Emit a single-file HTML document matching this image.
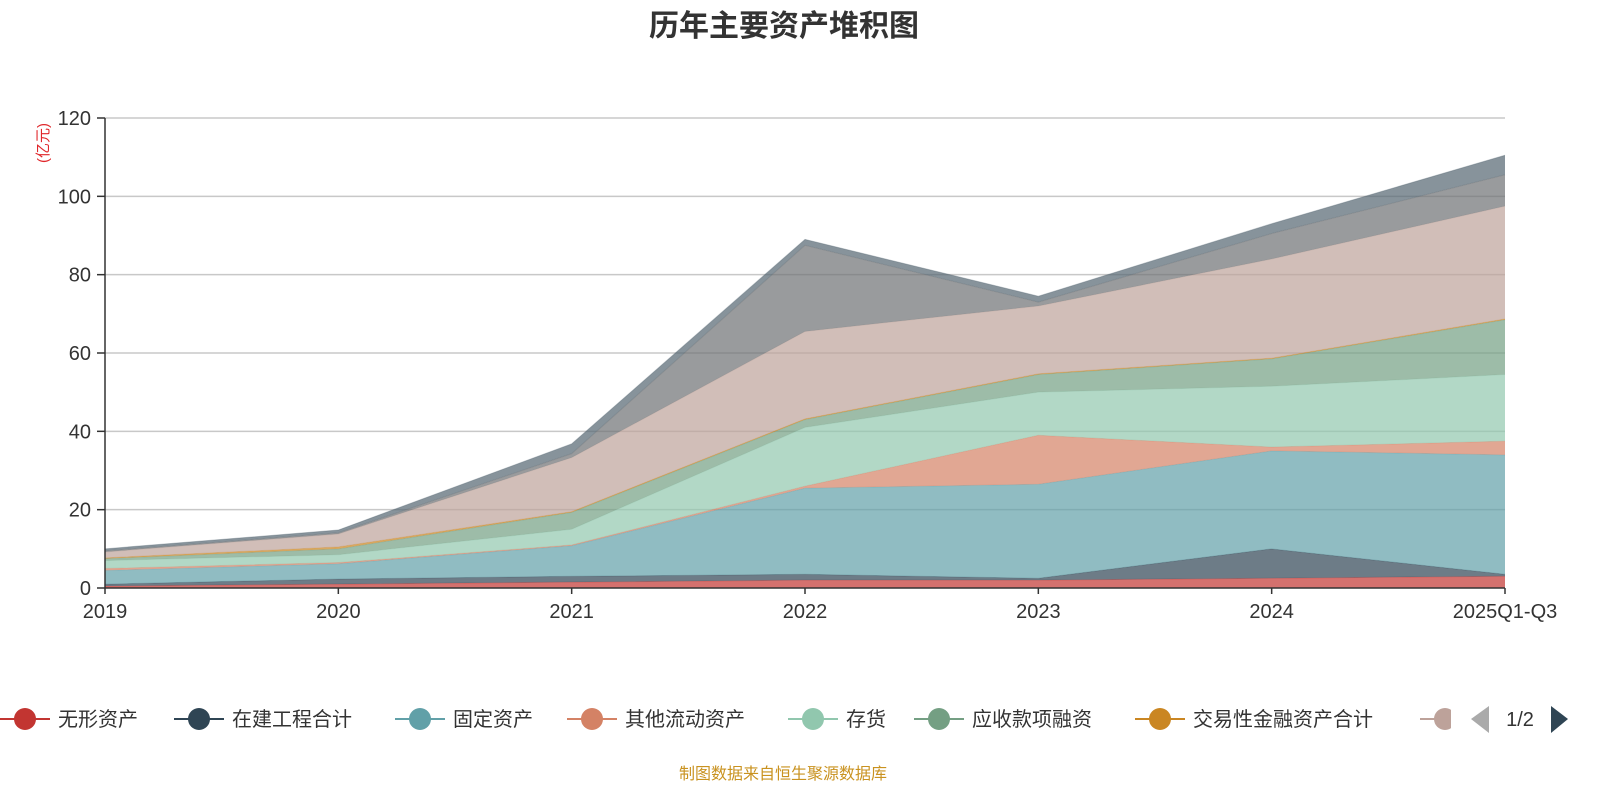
<!DOCTYPE html>
<html><head><meta charset="utf-8"><style>
body{margin:0;background:#fff;font-family:"Liberation Sans","Noto Sans CJK SC",sans-serif;}
svg text{font-family:"Liberation Sans","Noto Sans CJK SC",sans-serif;}
</style></head><body>
<svg id="c" width="1600" height="800">
<text x="784" y="36" text-anchor="middle" font-size="30" font-weight="bold" fill="#333">历年主要资产堆积图</text>
<text transform="translate(48,143) rotate(-90)" text-anchor="middle" font-size="15" fill="#e0262a">(亿元)</text>
<g id="grid"></g><g id="areas"></g><g id="axes"></g><g id="legend"></g>
<text x="783" y="779" text-anchor="middle" font-size="16" fill="#c9921f">制图数据来自恒生聚源数据库</text>
</svg>
<script>
const categories=["2019","2020","2021","2022","2023","2024","2025Q1-Q3"];
const seriesNames=["无形资产","在建工程合计","固定资产","其他流动资产","存货","应收款项融资","交易性金融资产合计","其他资产A","其他资产B","其他资产C"];
const s0=[0.5,1,1.5,2,2,2.5,3];
const s1=[0.5,1.3,1.5,1.5,0.5,7.5,0.5];
const s2=[3.5,3.9,7.8,22,24,25,30.5];
const s3=[0.5,0.3,0.2,0.5,12.5,1,3.5];
const s4=[2,2,4,15,11,15.5,17];
const s5=[0.5,1.5,4.3,2,4.5,7,14];
const s6=[0.2,0.5,0.2,0.2,0.2,0.2,0.2];
const s7=[1.5,3.3,13.8,22.3,17.3,25.3,28.8];
const s8=[0.3,0.3,1,22,1,6.5,8];
const s9=[0.5,0.7,2.5,1.5,1.5,2.5,5];
const yTicks=[0,20,40,60,80,100,120];
const series=[s0,s1,s2,s3,s4,s5,s6,s7,s8,s9];
const colors=["#c23531","#2f4554","#61a0a8","#d48265","#91c7ae","#749f83","#ca8622","#bda29a","#6e7074","#546570"];
const NS="http://www.w3.org/2000/svg";
const X0=105,X1=1505,Y0=588,Y1=118;
const xs=i=>X0+(X1-X0)*i/(categories.length-1);
const ys=v=>Y0-(Y0-Y1)*v/120;
function mk(t,a,p){const e=document.createElementNS(NS,t);for(const k in a)e.setAttribute(k,a[k]);p.appendChild(e);return e;}
const grid=document.getElementById('grid'),axes=document.getElementById('axes'),areas=document.getElementById('areas'),leg=document.getElementById('legend');
yTicks.forEach(v=>{
 if(v>0){const l=mk('line',{x1:X0,x2:X1,y1:ys(v),y2:ys(v),stroke:'#c8c8c8','stroke-width':1.5},grid);
 
 }
 const tk=mk('line',{x1:X0-8,x2:X0,y1:ys(v),y2:ys(v),stroke:'#333','stroke-width':1.5},axes);
 
 
 const t=mk('text',{x:X0-14,y:ys(v)+7,'text-anchor':'end','font-size':20,fill:'#333'},axes);t.textContent=v;
 
 
});
let base=categories.map(()=>0);
series.forEach((s,k)=>{
 const top=base.map((b,i)=>b+s[i]);
 let d='M'+top.map((v,i)=>xs(i)+','+ys(v)).join('L');
 for(let i=categories.length-1;i>=0;i--)d+='L'+xs(i)+','+ys(base[i]);
 const p=mk('path',{d:d+'Z',fill:colors[k],'fill-opacity':0.7,stroke:'none'},areas);
 
 
 const ln=mk('path',{d:'M'+top.map((v,i)=>xs(i)+','+ys(v)).join('L'),fill:'none',stroke:colors[k],'stroke-opacity':0.35,'stroke-width':1},areas);
 
 
 base=top;
});
const ax=mk('line',{x1:X0,x2:X1,y1:Y0,y2:Y0,stroke:'#333','stroke-width':1.5},axes);


const ay=mk('line',{x1:X0,x2:X0,y1:Y1,y2:Y0,stroke:'#333','stroke-width':1.5},axes);


categories.forEach((c,i)=>{
 const tk=mk('line',{x1:xs(i),x2:xs(i),y1:Y0,y2:Y0+6,stroke:'#333','stroke-width':1.5},axes);
 
 
 const t=mk('text',{x:xs(i),y:Y0+30,'text-anchor':'middle','font-size':20,fill:'#333'},axes);t.textContent=c;
 
 
});
const legX=[25,199,420,592,813,939,1160,1445];
legX.forEach((x,k)=>{
 const g=mk('g',{},leg);
 
 
 mk('line',{x1:x-25,x2:x+25,y1:719,y2:719,stroke:colors[k],'stroke-width':2},g);
 mk('circle',{cx:x,cy:719,r:11,fill:colors[k]},g);
 if(k<7){const t=mk('text',{x:x+33,y:726,'font-size':20,fill:'#333'},g);t.textContent=seriesNames[k];}
});
mk('rect',{x:1451,y:700,width:30,height:40,fill:'#fff'},leg);
const pl=mk('path',{d:'M1489,706 L1471,719 L1489,733 Z',fill:'#aaa'},leg);


const pt=mk('text',{x:1520,y:726,'text-anchor':'middle','font-size':20,fill:'#333'},leg);pt.textContent='1/2';


const pn=mk('path',{d:'M1551,706 L1568,719 L1551,733 Z',fill:'#2f4554'},leg);


</script>
</body></html>
